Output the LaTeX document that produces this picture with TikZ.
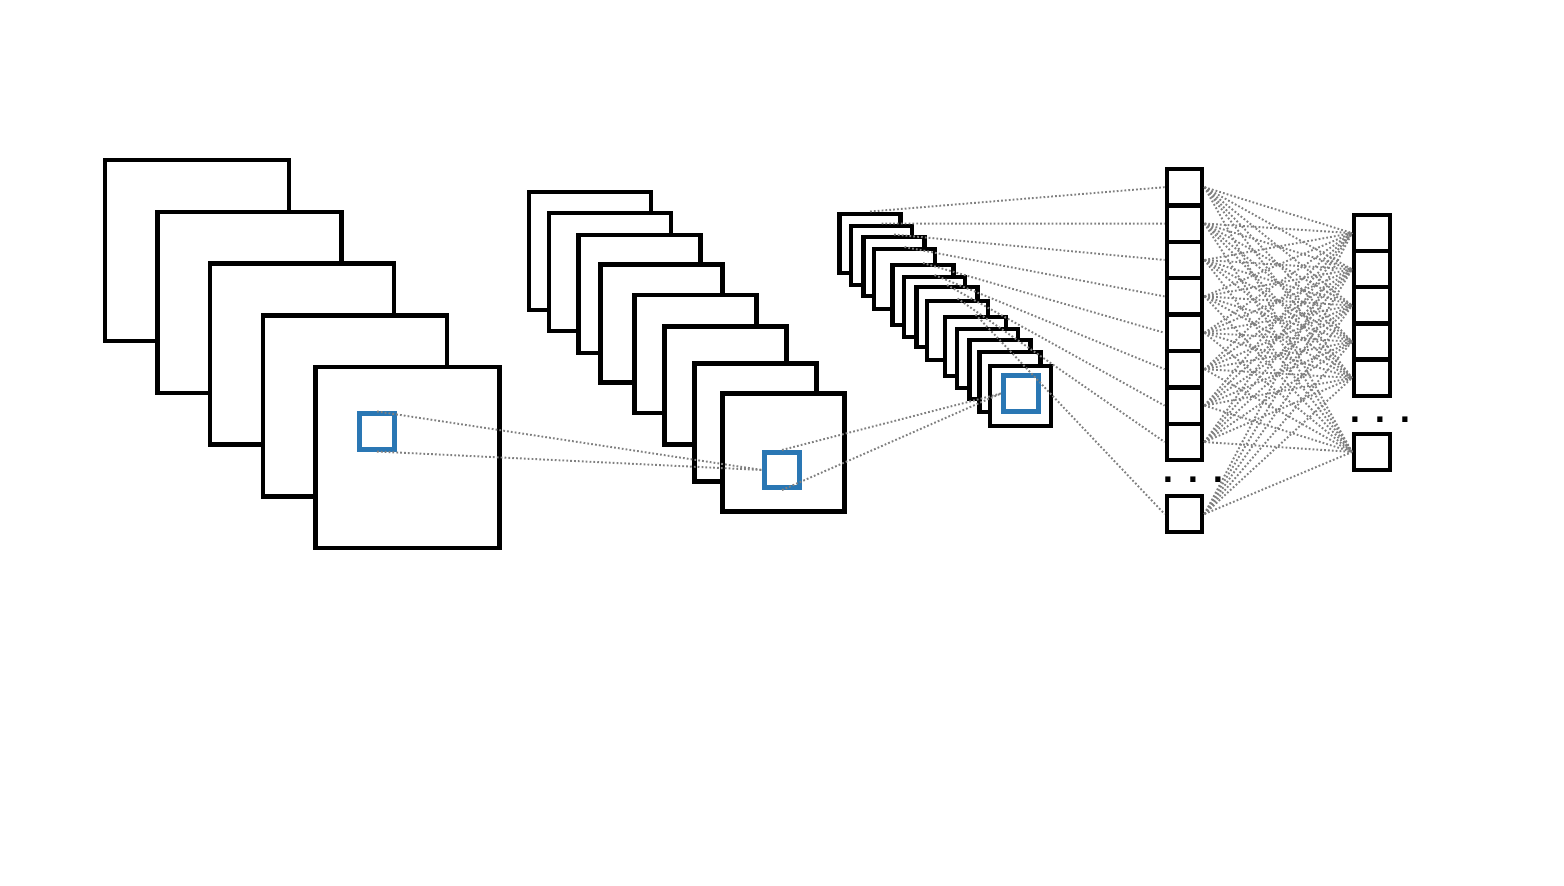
\documentclass[tikz,border=0pt]{standalone}
\usepackage{fontspec}
\setmainfont{DejaVu Sans}
\usepackage{tikz}
\usepackage{xcolor}
\definecolor{patchblue}{RGB}{42,119,180}

\begin{document}
\begin{tikzpicture}[x=0.01cm,y=-0.01cm,
  fmap/.style={draw,fill=white,line width=1.25pt,inner sep=0pt},
  bigmap/.style={fmap,minimum width=1.84cm,minimum height=1.81cm},
  midmap/.style={fmap,minimum width=1.22cm,minimum height=1.18cm},
  smallmap/.style={fmap,minimum width=0.61cm,minimum height=0.595cm},
  unit/.style={fmap,minimum width=0.355cm,minimum height=0.364cm},
  patch/.style={draw=patchblue,line width=1.3pt,minimum size=0.355cm,inner sep=0pt},
  link/.style={gray,line width=0.55pt,dash pattern=on 0.5pt off 0.6pt},
  dots/.style={font=\bfseries\fontsize{8.4}{9}\selectfont,inner sep=0pt}]
\useasboundingbox (0,0) rectangle (1564,886);
\foreach \n/\x/\y in {1/197/250.5,2/249.6/302.3,3/302.2/354.1,4/354.8/405.9,5/407.4/457.7}
  \node[bigmap] (a\n) at (\x,\y) {};
\node[patch] (p1) at (377,431.5) {};
\foreach \n/\x/\y in {1/590/251,2/610/272,3/639.5/294,4/661.5/323.5,5/695.5/354,6/725.5/385.5,7/755.5/422.5,8/783.5/452.5}
  \node[midmap] (b\n) at (\x,\y) {};
\node[patch] (p2) at (782,470) {};
\foreach \n/\x/\y in {1/870/243.5,2/881.5/255.5,3/894/266.5,4/904.5/279,5/923/295,6/934.5/307,7/947/317,8/957.5/330.5,9/975.5/346.5,10/987.5/358.5,11/1000/369.5,12/1010/382,13/1020.5/396}
  \node[smallmap] (c\n) at (\x,\y) {};
\node[patch] (p3) at (1021,393.5) {};
\foreach \n/\y in {1/187.2,2/223.6,3/260,4/296.4,5/332.8,6/369.2,7/405.6,8/442,9/514}
  \node[unit] (f\n) at (1184.5,\y) {};
\foreach \n/\y in {1/233.1,2/269.3,3/305.5,4/341.7,5/377.9,6/452}
  \node[unit] (g\n) at (1372,\y) {};
\node[dots] (fdots) at (1193,480) {. . .};
\node[dots] (gdots) at (1380,420) {. . .};
\draw[link] (p1.north) -- (p2.west);
\draw[link] (p1.south) -- (p2.west);
\draw[link] (p2.north) -- (p3.west);
\draw[link] (p2.south) -- (p3.west);
\foreach \i in {1,...,9}
  \draw[link] (c\i.north) -- (f\i.west);
\foreach \i in {1,...,9}
  \foreach \j in {1,...,6}
    \draw[link] (f\i.east) -- (g\j.west);
\end{tikzpicture}
\end{document}
